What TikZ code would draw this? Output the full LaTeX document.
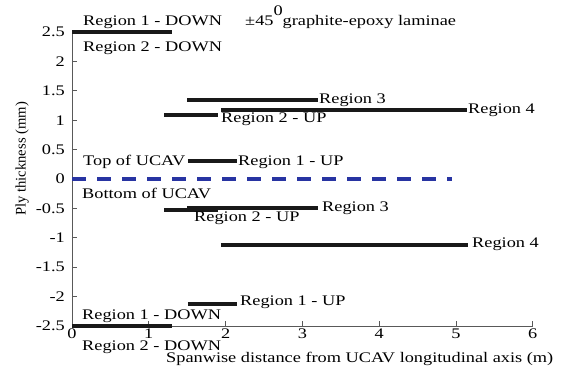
\documentclass[tikz,border=0pt]{standalone}
\usepackage{graphicx}
\usepackage{fontspec}
\setmainfont{Liberation Serif}
\newcommand{\widetxt}[1]{\scalebox{1.25}[1]{#1}}
\definecolor{zeroblue}{RGB}{40,52,162}
\definecolor{barblack}{RGB}{25,25,25}
\tikzset{
  txt/.style={font=\fontsize{14.7}{17}\selectfont, inner sep=0pt, anchor=base west, text=black},
  ticklab/.style={font=\fontsize{14.7}{17}\selectfont, inner sep=0pt, text=black},
  plybar/.style={draw=barblack, line width=4bp},
  axisline/.style={draw=black!65, line width=0.8bp},
  zeroline/.style={draw=zeroblue, line width=3.5bp, dash pattern=on 14bp off 11bp},
}
\begin{document}
\begin{tikzpicture}
\useasboundingbox (0,0) rectangle (576bp,-367bp);
% data scope: origin at pixel (72,179)
\begin{scope}[shift={(72bp,-179bp)}, x=76.8bp, y=58.8bp]
  % axes
  \coordinate (o) at (0,-2.5);
  \coordinate (xe) at (6,-2.5);
  \coordinate (ye) at (0,2.5);
  \draw[axisline] (ye) -- (o) -- (xe);
  \foreach \t in {0,...,6} {
    \draw[axisline] (\t,-2.5) -- ++(0,5bp);
  }
  \foreach \t in {2.5,2,1.5,1,0.5,0,-0.5,-1,-1.5,-2,-2.5} {
    \draw[axisline] (0,\t) -- ++(5bp,0);
  }
  % zero line
  \coordinate (z0) at (0,0);
  \coordinate (z1) at (4.95,0);
  \draw[zeroline] (z0) -- (z1);
  % bars
  \coordinate (a1) at (0,2.5);     \coordinate (a2) at (1.3,2.5);
  \coordinate (b1) at (1.5,1.34);  \coordinate (b2) at (3.2,1.34);
  \coordinate (c1) at (1.94,1.18); \coordinate (c2) at (5.14,1.18);
  \coordinate (d1) at (1.2,1.09);  \coordinate (d2) at (1.9,1.09);
  \coordinate (e1) at (1.51,0.31); \coordinate (e2) at (2.15,0.31);
  \coordinate (f1) at (1.2,-0.53); \coordinate (f2) at (1.9,-0.53);
  \coordinate (g1) at (1.5,-0.5);  \coordinate (g2) at (3.2,-0.5);
  \coordinate (h1) at (1.94,-1.13);\coordinate (h2) at (5.15,-1.13);
  \coordinate (i1) at (1.51,-2.13);\coordinate (i2) at (2.15,-2.13);
  \coordinate (j1) at (0,-2.5);    \coordinate (j2) at (1.3,-2.5);
  \draw[plybar] (a1) -- (a2);
  \draw[plybar] (b1) -- (b2);
  \draw[plybar] (c1) -- (c2);
  \draw[plybar] (d1) -- (d2);
  \draw[plybar] (e1) -- (e2);
  \draw[plybar] (f1) -- (f2);
  \draw[plybar] (g1) -- (g2);
  \draw[plybar] (h1) -- (h2);
  \draw[plybar] (i1) -- (i2);
  \draw[plybar] (j1) -- (j2);
  % y tick labels
  \foreach \t/\l [count=\n] in {2.5/2.5,2/2,1.5/1.5,1/1,0.5/0.5,0/0,-0.5/-0.5,-1/-1,-1.5/-1.5,-2/-2,-2.5/-2.5} {
    \node[ticklab, anchor=east] (yl\n) at ([xshift=-7bp]0,\t) {\widetxt{\l}};
  }
\end{scope}
% x tick labels (baseline at pixel y=338)
\foreach \t [count=\n] in {0,...,6} {
  \node[ticklab, anchor=base] (xl\n) at ({72bp+76.8bp*\t},-338bp) {\widetxt{\t}};
}
% axis titles
\node[txt] (xlab) at (166bp,-362bp) {\widetxt{Spanwise distance from UCAV longitudinal axis (m)}};
\node[ticklab, rotate=90] (ylab) at (22bp,-159bp) {Ply thickness (mm)};
% labels
\node[txt] (t1) at (83bp,-25bp) {\widetxt{Region 1 - DOWN}};
\node[txt] (t2) at (83bp,-51bp) {\widetxt{Region 2 - DOWN}};
\node[txt] (t3) at (245bp,-25bp) {\widetxt{±45\raisebox{0.62em}{0}graphite-epoxy laminae}};
\node[txt] (t4) at (319bp,-103bp) {\widetxt{Region 3}};
\node[txt] (t5) at (468bp,-113bp) {\widetxt{Region 4}};
\node[txt] (t6) at (221bp,-122bp) {\widetxt{Region 2 - UP}};
\node[txt] (t7) at (83bp,-165bp) {\widetxt{Top of UCAV}};
\node[txt] (t8) at (238bp,-165bp) {\widetxt{Region 1 - UP}};
\node[txt] (t9) at (82bp,-198bp) {\widetxt{Bottom of UCAV}};
\node[txt] (t10) at (194bp,-221bp) {\widetxt{Region 2 - UP}};
\node[txt] (t11) at (322bp,-211bp) {\widetxt{Region 3}};
\node[txt] (t12) at (472bp,-247bp) {\widetxt{Region 4}};
\node[txt] (t13) at (240bp,-305bp) {\widetxt{Region 1 - UP}};
\node[txt] (t14) at (82bp,-319bp) {\widetxt{Region 1 - DOWN}};
\node[txt] (t15) at (82bp,-350bp) {\widetxt{Region 2 - DOWN}};
\end{tikzpicture}
\end{document}
